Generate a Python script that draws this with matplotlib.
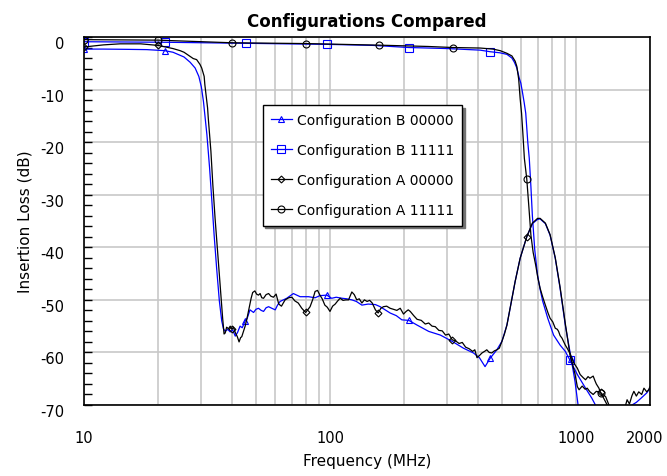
import numpy as np
import matplotlib.pyplot as plt
import matplotlib.transforms as mtransforms
from matplotlib.ticker import FixedLocator, MultipleLocator, NullFormatter

plt.rcParams["font.family"] = "DejaVu Sans"
plt.rcParams["font.size"] = 11
plt.rcParams["axes.unicode_minus"] = False

# Configuration B 00000 (blue, triangles)
b0_freq = [10, 12, 15, 18, 21.3, 23, 25.5, 27, 28.3, 29.3, 30.0, 30.6, 31.6, 32.4, 33.1,
           33.8, 34.6, 35.5, 36.3, 36.9, 37.5, 38.4, 39.3, 40.2, 41.2, 42.1, 43.1, 44.0,
           45.2, 46.0, 47.3, 48.9, 50.0, 51.2, 52.5, 53.7, 55.0, 56.3, 58.0, 59.9, 61.2,
           62.7, 66.7, 71, 75.6, 81.8, 87, 91, 97, 101.6, 106, 112, 117, 122.7, 128,
           134.8, 143, 153, 160, 175.6, 186, 196, 209, 226, 252, 281, 314, 349, 383, 405,
           427, 448, 477, 500, 524, 540, 566, 593, 631, 665, 698, 715, 751, 785, 824, 862,
           905, 957, 991, 1020, 1060]
b0_db = [-2.3, -2.3, -2.35, -2.4, -2.6, -2.9, -3.8, -4.8, -5.9, -7.5, -9.5, -12.3, -18.6,
         -24.9, -31.2, -37.6, -43.9, -50.2, -54.0, -55.5, -56.0, -55.6, -56.1, -55.7, -56.9,
         -56.2, -55.0, -55.3, -54.0, -53.6, -51.9, -52.4, -51.8, -51.6, -52.0, -52.2, -51.5,
         -51.3, -51.6, -51.9, -51.0, -50.3, -49.7, -48.8, -49.4, -49.4, -49.6, -49.2, -49.1,
         -49.7, -49.5, -49.7, -49.8, -50.0, -50.3, -51.0, -50.8, -50.9, -51.3, -52.5, -53.0,
         -53.8, -53.9, -54.8, -56.0, -56.7, -57.9, -59.2, -60.1, -61.0, -62.7, -61.1, -59.5,
         -57.9, -54.8, -51.6, -46.5, -42.1, -38.0, -35.5, -34.7, -34.6, -35.5, -37.7, -42.1,
         -47.8, -54.8, -61.3, -65.5, -70.0, -74.0]
b0_marks = [10, 21.3, 45.2, 97, 209, 448, 957]

# Configuration B 11111 (blue, squares)
b1_freq = [10, 21.3, 45.6, 97.6, 150, 209, 300, 408, 448, 490, 524, 549, 562, 575, 588,
           597, 606, 616, 625, 637, 646, 656, 665, 680, 698, 715, 733, 768, 811, 862, 905,
           946, 1013, 1094, 1160, 1200, 1300, 1450, 1600, 1690, 1760, 1840, 1940, 2000]
b1_db = [-0.9, -1.0, -1.2, -1.4, -1.6, -2.0, -2.2, -2.5, -2.8, -3.0, -3.3, -4.0, -4.8,
         -5.9, -7.8, -8.8, -10.5, -12.5, -14.5, -20.0, -23.1, -28.5, -34.0, -40.5, -45.3,
         -48.0, -50.3, -53.5, -56.7, -58.6, -59.8, -61.5, -64.2, -66.8, -68.7, -70.0, -72.5,
         -74.0, -72.5, -70.0, -69.5, -68.7, -67.7, -66.8]
b1_marks = [10, 21.3, 45.6, 97.6, 209, 448, 946]

# Configuration A 00000 (black, diamonds)
a0_freq = [10, 12, 14, 17, 20, 23, 24.6, 25.5, 27, 27.8, 28.7, 29.6, 30.1, 30.8, 31.0,
           31.8, 32.0, 32.8, 33.4, 34.1, 34.9, 35.7, 36.6, 37.1, 37.5, 38.0, 38.7, 39.3,
           39.9, 40.5, 41.2, 42.0, 42.7, 43.3, 43.8, 44.5, 45.2, 46.0, 46.6, 47.2, 47.8,
           48.5, 49.5, 50.3, 51.2, 52.0, 52.8, 53.7, 55.0, 56.3, 57.5, 58.9, 60.4, 61.9,
           63.5, 65.7, 68, 70, 72, 74.3, 76.8, 79.6, 81.5, 83, 85, 87, 89, 91, 93, 95.3,
           97.5, 100, 102.5, 105, 107.5, 110, 113, 116, 119, 122.7, 125.5, 128.5, 131.5,
           134.8, 138, 141.5, 145, 148.5, 153, 157, 161, 165, 170, 175.6, 181, 187, 193,
           199, 204, 208, 212, 219, 226, 235, 244, 252, 260, 268, 277, 286, 295, 304, 314,
           324, 335, 345, 356, 368, 380, 388, 396, 405, 415, 425, 434, 444, 455, 466, 477,
           488, 500, 512, 524, 540, 566, 593, 631, 665, 698, 715, 751, 785, 824, 862, 905,
           946, 990, 1013, 1030, 1060, 1090, 1111, 1140, 1175, 1210, 1260, 1300, 1340, 1400,
           1500]
a0_db = [-1.9, -1.5, -1.3, -1.3, -1.6, -2.2, -2.6, -2.9, -3.7, -4.1, -4.3, -5.2, -5.9,
         -7.5, -9.1, -13.5, -15.4, -21.7, -28.1, -34.4, -40.7, -47.0, -53.4, -56.5, -56.3,
         -55.2, -55.5, -55.0, -55.6, -55.2, -56.2, -57.0, -58.0, -57.2, -57.0, -56.0, -55.0,
         -53.5, -52.2, -51.0, -49.7, -48.6, -48.3, -48.9, -49.1, -48.8, -49.6, -49.7, -49.0,
         -48.8, -49.3, -49.5, -48.9, -50.8, -51.2, -50.0, -49.6, -49.5, -50.2, -50.6, -51.6,
         -52.4, -51.8, -51.3, -50.0, -48.4, -48.2, -49.1, -49.8, -51.0, -51.4, -52.2, -51.2,
         -50.8, -50.2, -49.7, -50.1, -50.0, -50.0, -48.5, -49.0, -50.0, -49.8, -50.6, -50.0,
         -50.3, -50.1, -50.6, -51.9, -52.5, -51.6, -51.3, -51.2, -51.6, -51.8, -52.0, -51.6,
         -52.7, -52.2, -51.9, -52.2, -53.0, -53.7, -53.9, -54.6, -54.4, -55.0, -55.1, -55.8,
         -55.9, -56.7, -56.5, -57.6, -57.8, -58.3, -58.1, -59.0, -59.3, -59.8, -59.5, -61.0,
         -60.6, -60.1, -59.8, -59.5, -60.0, -60.1, -59.7, -59.5, -59.2, -57.9, -56.5, -54.8,
         -51.6, -46.5, -42.1, -38.0, -35.4, -34.5, -34.5, -35.4, -37.6, -42.0, -47.6, -54.5,
         -60.5, -64.0, -66.5, -67.1, -66.4, -67.0, -66.8, -67.5, -68.0, -67.4, -67.6, -68.8,
         -70.0, -72.0, -74.0]
a0_marks = [10, 20, 39.9, 79.6, 157, 314, 631, 1260]

# Configuration A 11111 (black, circles)
a1_freq = [10, 20, 40, 80, 158, 250, 316, 408, 460, 492, 524, 549, 566, 575, 585, 593,
           601, 608, 617, 631, 644, 656, 670, 686, 700, 715, 733, 751, 770, 785, 805, 824,
           840, 850, 862, 878, 890, 905, 921, 946, 980, 1013, 1040, 1070, 1094, 1120, 1140,
           1175, 1195, 1210, 1240, 1260, 1320, 1375, 1430, 1500, 1560, 1614, 1650, 1690,
           1720, 1760, 1800, 1850, 1890, 1940, 1975, 2000]
a1_db = [-0.5, -0.6, -1.1, -1.25, -1.55, -1.8, -2.0, -2.1, -2.3, -2.6, -3.1, -3.6, -4.6,
         -5.6, -8.0, -11.7, -14.5, -18.1, -23.1, -27.0, -32.5, -37.7, -41.0, -43.4, -45.8,
         -47.8, -49.5, -51.0, -52.5, -53.5, -54.2, -55.4, -55.6, -56.0, -56.8, -57.3, -57.9,
         -58.6, -59.2, -60.2, -62.0, -63.0, -64.2, -64.8, -65.2, -64.6, -64.9, -64.5, -65.4,
         -66.0, -66.8, -67.7, -68.4, -70.5, -72.0, -72.5, -71.5, -69.0, -69.8, -68.2, -67.4,
         -68.3, -67.5, -68.0, -66.8, -67.5, -67.1, -66.5]
a1_marks = [10, 20, 40, 80, 158, 316, 631, 1260]

series = [
    ("Configuration B 00000", b0_freq, b0_db, b0_marks, "#0000ff", "^", 5),
    ("Configuration B 11111", b1_freq, b1_db, b1_marks, "#0000ff", "s", 5.5),
    ("Configuration A 00000", a0_freq, a0_db, a0_marks, "black", "D", 3.5),
    ("Configuration A 11111", a1_freq, a1_db, a1_marks, "black", "o", 5),
]

fig = plt.figure(figsize=(6.67, 4.77), dpi=100)
ax = fig.add_axes([84 / 667, 1 - 406 / 477, 566 / 667, 368 / 477])

for label, f, db, marks, color, marker, ms in series:
    f = np.array(f)
    idx = [int(np.argmin(np.abs(np.log(f) - np.log(m)))) for m in marks]
    ax.plot(f, db, color=color, lw=0.9, marker=marker, markevery=idx, ms=ms,
            mfc="none", mec=color, mew=0.8, label=label)

ax.set_xscale("log")
ax.set_xlim(10, 2000)
ax.set_ylim(-70, 0)

ax.xaxis.set_major_locator(FixedLocator([10, 100, 1000, 2000]))
ax.set_xticklabels(["10", "100", "1000", "2000"])
ax.xaxis.set_minor_locator(FixedLocator([20, 30, 40, 50, 60, 70, 80, 90,
                                         200, 300, 400, 500, 600, 700, 800, 900]))
ax.xaxis.set_minor_formatter(NullFormatter())
ax.tick_params(axis="x", which="both", length=0, pad=18, labelsize=10.5)

ax.yaxis.set_major_locator(MultipleLocator(10))
ax.yaxis.set_minor_locator(MultipleLocator(2))
ax.tick_params(axis="y", which="both", direction="in", length=6, width=1,
               pad=14, labelsize=10.5)

ax.grid(True, which="both", axis="x", color="#c8c8c8", lw=1.2)
ax.grid(True, which="major", axis="y", color="#c8c8c8", lw=1.2)
ax.set_axisbelow(True)
for s in ax.spines.values():
    s.set_linewidth(1.2)

shift = mtransforms.ScaledTranslation(0, -5 / 100, fig.dpi_scale_trans)
for t in ax.yaxis.get_major_ticks():
    t.label1.set_transform(t.label1.get_transform() + shift)
left = mtransforms.ScaledTranslation(-5 / 100, 0, fig.dpi_scale_trans)
last = ax.xaxis.get_major_ticks()[-1].label1
last.set_transform(last.get_transform() + left)

ax.set_title("Configurations Compared", fontsize=12, fontweight="bold", pad=8)
ax.set_xlabel("Frequency (MHz)", fontsize=11, labelpad=6)
ax.set_ylabel("Insertion Loss (dB)", fontsize=11, labelpad=6)

leg = ax.legend(loc="upper left", bbox_to_anchor=((262.7 - 84) / 566, (406 - 106) / 368),
                borderaxespad=0, frameon=True, fancybox=False, shadow={"color": "0.45", "alpha": 1},
                edgecolor="black", framealpha=1, fontsize=10, handlelength=1.5,
                handletextpad=0.35, labelspacing=1.15, borderpad=0.6)
leg.get_frame().set_linewidth(1.0)

fig.savefig("out.png", dpi=100)
